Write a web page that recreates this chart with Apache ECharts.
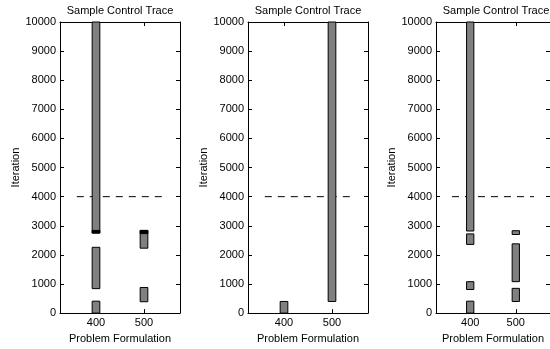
<!DOCTYPE html>
<html>
<head>
<meta charset="utf-8">
<script src="https://cdn.jsdelivr.net/npm/echarts@6/dist/echarts.min.js"></script>
<style>
  html, body { margin: 0; padding: 0; background: #fff; }
  #chart { width: 550px; height: 349px; }
</style>
</head>
<body>
<div id="chart"></div>
<script>
// x tick labels (problem formulation) and y range
const xTicks = [400, 500];
const yMin = 0, yMax = 10000, yStep = 1000;

// segments: [formulation, iteration start, iteration end]
const plot1Segments = [[400, 2750, 10000], [400, 840, 2260], [400, 0, 410], [500, 2230, 2840], [500, 390, 880]];
const plot1Dark = [[400, 2750, 2840], [500, 2730, 2840]];
const plot2Segments = [[400, 0, 400], [500, 400, 10000]];
const plot3Segments = [[400, 2820, 10000], [400, 2360, 2720], [400, 810, 1080], [400, 0, 410],
                       [500, 2700, 2830], [500, 1080, 2380], [500, 400, 850]];
// dashed threshold at 4000
const thresholdLine = [[360, 4000], [540, 4000]];

const chart = echarts.init(document.getElementById('chart'));

const font = 'Liberation Sans, Arial, sans-serif';
const gridLefts = [60, 248, 436];
const barW = 16;

function renderSeg(params, api) {
  const x = api.value(0);
  const lo = api.coord([x, api.value(1)]);
  const hi = api.coord([x, api.value(2)]);
  const w = api.size([barW, 0])[0];
  return {
    type: 'rect',
    shape: { x: lo[0] - w / 2, y: hi[1], width: w, height: lo[1] - hi[1] },
    style: { fill: api.visual('color'), stroke: '#000', lineWidth: 1 }
  };
}

const grids = [], xAxes = [], yAxes = [], titles = [], series = [];
const allSegs = [plot1Segments, plot2Segments, plot3Segments];

gridLefts.forEach((left, i) => {
  grids.push({ left: left, width: 120, top: 22, height: 297.5 });
  titles.push({
    type: 'text', x: left + 60, y: 10.5,
    style: {
      text: 'Sample Control Trace', fill: '#000', font: '11px ' + font,
      textAlign: 'center', textVerticalAlign: 'middle'
    }
  });
  const xBase = {
    type: 'value', gridIndex: i, min: 325, max: 575,
    splitLine: { show: false },
    axisLine: { show: true, onZero: false, lineStyle: { color: '#000', width: 1 } },
    axisTick: { show: true, inside: true, length: 4, customValues: xTicks, lineStyle: { color: '#000' } }
  };
  xAxes.push(Object.assign({}, xBase, {
    position: 'bottom',
    name: 'Problem Formulation', nameLocation: 'middle', nameGap: 17,
    nameTextStyle: { fontFamily: font, fontSize: 11, color: '#000' },
    axisLabel: { customValues: xTicks, margin: 4, fontFamily: font, fontSize: 11, color: '#000' }
  }));
  xAxes.push(Object.assign({}, xBase, { position: 'top', axisLabel: { show: false } }));
  const yBase = {
    type: 'value', gridIndex: i, min: yMin, max: yMax, interval: yStep,
    splitLine: { show: false },
    axisLine: { show: true, onZero: false, lineStyle: { color: '#000', width: 1 } },
    axisTick: { show: true, inside: true, length: 4, lineStyle: { color: '#000' } }
  };
  yAxes.push(Object.assign({}, yBase, {
    position: 'left',
    name: 'Iteration', nameLocation: 'middle', nameGap: 38,
    nameTextStyle: { fontFamily: font, fontSize: 11, color: '#000' },
    axisLabel: { margin: 4, fontFamily: font, fontSize: 11, color: '#000', formatter: v => String(v) }
  }));
  yAxes.push(Object.assign({}, yBase, { position: 'right', axisLabel: { show: false } }));

  series.push({
    type: 'line', xAxisIndex: 2 * i, yAxisIndex: 2 * i, data: thresholdLine,
    symbol: 'none', silent: true, z: 1,
    lineStyle: { color: '#000', width: 1, type: [7, 6] }
  });
  series.push({
    type: 'custom', xAxisIndex: 2 * i, yAxisIndex: 2 * i, data: allSegs[i],
    renderItem: renderSeg, itemStyle: { color: '#808080' }, z: 2,
    encode: { x: 0, y: [1, 2] }
  });
});

series.push({
  type: 'custom', xAxisIndex: 0, yAxisIndex: 0, data: plot1Dark,
  renderItem: renderSeg, itemStyle: { color: '#000' }, z: 3,
  encode: { x: 0, y: [1, 2] }
});

chart.setOption({
  animation: false,
  backgroundColor: '#fff',
  graphic: titles,
  grid: grids,
  xAxis: xAxes,
  yAxis: yAxes,
  series: series
});
</script>
</body>
</html>
